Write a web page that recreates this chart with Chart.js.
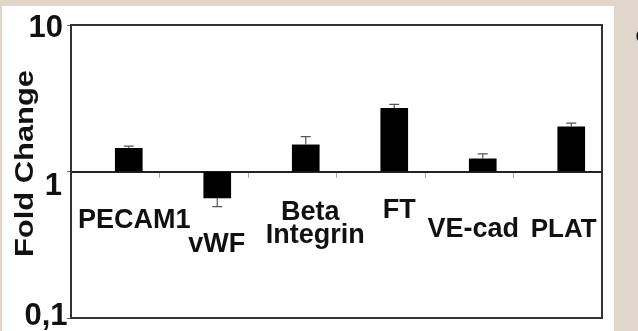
<!DOCTYPE html>
<html>
<head>
<meta charset="utf-8">
<script src="https://cdn.jsdelivr.net/npm/chart.js@4/dist/chart.umd.min.js"></script>
<style>
  html, body { margin: 0; padding: 0; background: #e0d6cc; }
  #wrap { position: relative; width: 638px; height: 331px; overflow: hidden; }
  #panel { position: absolute; left: 2px; top: 6px; width: 612px; height: 325px; background: #ffffff; }
  canvas { position: absolute; left: 0; top: 0; }
</style>
</head>
<body>
<div id="wrap">
  <div id="panel"></div>
  <canvas id="chart" width="638" height="331"></canvas>
</div>
<script>
// Genes shown along the fold-change baseline
const categories = ['PECAM1', 'vWF', ['Beta', 'Integrin'], 'FT', 'VE-cad', 'PLAT'];
// Mean fold change (log scale, baseline = 1)
const foldChange = [1.44, 0.66, 1.52, 2.70, 1.22, 2.02];
// End of each one-sided error whisker
const errorEnds = [1.49, 0.575, 1.73, 2.87, 1.32, 2.14];
// Y axis ticks
const yTickValues = [10, 1, 0.1];
const yTickLabels = ['10', '1', '0,1'];

const FONT = '"Liberation Sans", Arial, Helvetica, sans-serif';
const INK = '#111111';

// Per-line label nudges [dx, dy] from the bar centre / the y = 1 baseline
const labelNudges = [
  [[5.5, 56.5]],
  [[-0.5, 80.5]],
  [[4.5, 48.5], [9.5, 71.5]],
  [[5, 46.5]],
  [[-9.5, 65.5]],
  [[-7.5, 65.5]]
];
// Y tick label nudges [dx, dy] from the axis line / tick pixel
const yTickNudges = [[-8, 11.7], [-9, 23.5], [-3.5, 7]];

const framePlugin = {
  id: 'frame',
  afterDraw(chart) {
    const { ctx, chartArea: a } = chart;
    ctx.save();
    ctx.strokeStyle = '#333333';
    ctx.lineWidth = 2;
    ctx.beginPath();
    ctx.moveTo(a.left, a.top);
    ctx.lineTo(a.right, a.top);
    ctx.lineTo(a.right, a.bottom);
    ctx.lineTo(a.left, a.bottom);
    ctx.stroke();
    ctx.restore();
  }
};

const errorBarPlugin = {
  id: 'errorBars',
  afterDatasetsDraw(chart) {
    const { ctx } = chart;
    const y = chart.scales.y;
    const meta = chart.getDatasetMeta(1);
    ctx.save();
    ctx.strokeStyle = '#555555';
    ctx.lineWidth = 1.2;
    meta.data.forEach((bar, i) => {
      const yEnd = y.getPixelForValue(errorEnds[i]);
      ctx.beginPath();
      ctx.moveTo(bar.x, bar.y);
      ctx.lineTo(bar.x, yEnd);
      ctx.moveTo(bar.x - 5, yEnd);
      ctx.lineTo(bar.x + 5, yEnd);
      ctx.stroke();
    });
    ctx.restore();
  }
};

const textPlugin = {
  id: 'texts',
  afterDraw(chart) {
    const { ctx, chartArea: a } = chart;
    const y = chart.scales.y;
    const meta = chart.getDatasetMeta(1);
    const base = y.getPixelForValue(1);
    ctx.save();
    ctx.fillStyle = INK;
    ctx.textBaseline = 'alphabetic';

    // Category labels
    ctx.textAlign = 'center';
    categories.forEach((cat, i) => {
      const lines = Array.isArray(cat) ? cat : [cat];
      const size = cat === 'PLAT' ? 26 : 27;
      ctx.font = 'bold ' + size + 'px ' + FONT;
      lines.forEach((line, j) => {
        const [dx, dy] = labelNudges[i][j];
        ctx.fillText(line, meta.data[i].x + dx, base + dy);
      });
    });

    // Y tick labels
    ctx.textAlign = 'right';
    ctx.font = 'bold 31px ' + FONT;
    yTickValues.forEach((v, i) => {
      const [dx, dy] = yTickNudges[i];
      ctx.fillText(yTickLabels[i], a.left + dx, y.getPixelForValue(v) + dy);
    });

    // Y axis title, stretched along its length
    ctx.font = 'bold 25px ' + FONT;
    const title = 'Fold Change';
    const w = ctx.measureText(title).width;
    ctx.translate(33, 163.5);
    ctx.rotate(-Math.PI / 2);
    ctx.scale(187 / w, 1);
    ctx.textAlign = 'center';
    ctx.fillText(title, 0, 0);
    ctx.restore();

    // Panel letter at the right edge
    ctx.save();
    ctx.fillStyle = INK;
    ctx.font = 'bold 22px ' + FONT;
    ctx.textAlign = 'left';
    ctx.fillText('c', 635.5, 42);
    ctx.restore();
  }
};

new Chart(document.getElementById('chart'), {
  type: 'bar',
  data: {
    labels: categories,
    datasets: [
      { label: 'spacer', data: categories.map(() => null), barThickness: 27 },
      {
        label: 'Fold Change',
        data: foldChange,
        base: 1,
        backgroundColor: '#000000',
        borderWidth: 0,
        barThickness: 27
      }
    ]
  },
  options: {
    responsive: false,
    animation: false,
    devicePixelRatio: 1,
    layout: { padding: { left: 71, top: 25, right: 36, bottom: 13 } },
    plugins: { legend: { display: false }, tooltip: { enabled: false } },
    scales: {
      x: {
        type: 'category',
        position: { y: 1 },
        offset: true,
        ticks: { display: false },
        grid: { drawOnChartArea: false, drawTicks: true, tickLength: 5, offset: true, color: '#aaaaaa', lineWidth: 1 },
        border: { display: true, color: '#222222', width: 2 },
        afterFit: s => { s.height = 0; }
      },
      y: {
        type: 'logarithmic',
        min: 0.1,
        max: 10,
        afterBuildTicks: s => { s.ticks = yTickValues.map(v => ({ value: v })); },
        afterFit: s => { s.width = 0; },
        ticks: { display: false },
        grid: { drawOnChartArea: false, drawTicks: true, tickLength: 4, color: '#666666', lineWidth: 1 },
        border: { display: true, color: '#333333', width: 2 }
      }
    }
  },
  plugins: [framePlugin, errorBarPlugin, textPlugin]
});
</script>
</body>
</html>
